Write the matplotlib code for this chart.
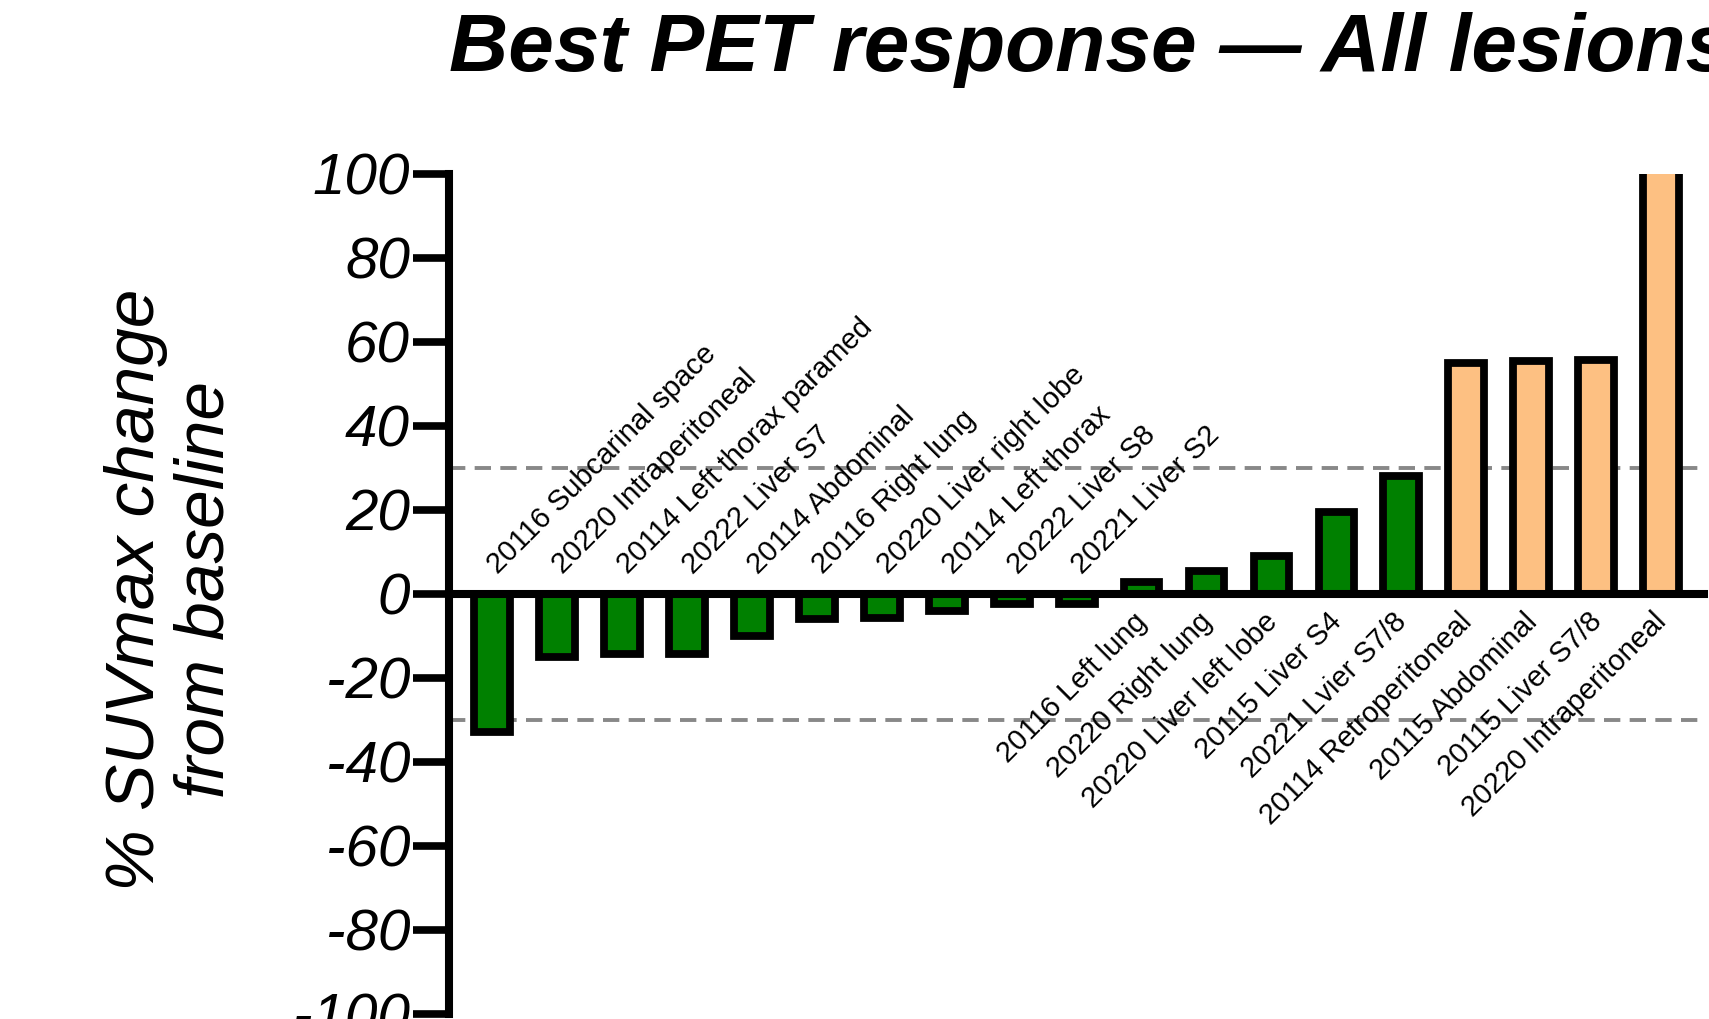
import numpy as np
import matplotlib
matplotlib.use("Agg")
import matplotlib.pyplot as plt

plt.rcParams['font.family'] = ['Liberation Sans', 'DejaVu Sans']
plt.rcParams['axes.unicode_minus'] = False

# lesions, sorted by best PET response
lesions = [
    "20116 Subcarinal space", "20220 Intraperitoneal", "20114 Left thorax paramed",
    "20222 Liver S7", "20114 Abdominal", "20116 Right lung",
    "20220 Liver right lobe", "20114 Left thorax", "20222 Liver S8",
    "20221 Liver S2", "20116 Left lung", "20220 Right lung",
    "20220 Liver left lobe", "20115 Liver S4", "20221 Lvier S7/8",
    "20114 Retroperitoneal", "20115 Abdominal", "20115 Liver S7/8",
    "20220 Intraperitoneal",
]
suv_change = [-33, -15, -14.4, -14.4, -10, -6, -5.8, -4.2, -2.5, -2.5,
              2.7, 5.4, 9, 19.5, 28, 55, 55.4, 55.6, 120]
bar_colors = ["#008000"] * 15 + ["#FDC082"] * 4
thresholds = [30, -30]

fig = plt.figure(figsize=(17.09, 10.19), dpi=100)
ax = fig.add_axes([449 / 1709, 5.5 / 1019, (1704.3 - 449) / 1709, (1013.5 - 173.5) / 1019])

x = np.arange(len(lesions))
ax.bar(x, suv_change, width=0.55, color=bar_colors, edgecolor="black",
       linewidth=5.6, zorder=2)

for t in thresholds:
    ax.axhline(t, color="#888888", lw=2.8, dashes=(4.2, 2.4), zorder=1)

for i, (name, v) in enumerate(zip(lesions, suv_change)):
    if v < 0:
        ax.text(i + 0.09, 4.5, name, rotation=45, rotation_mode="anchor",
                ha="left", va="baseline", fontsize=21)
    else:
        ax.text(i - 0.13, -3.3, name, rotation=45, rotation_mode="anchor",
                ha="right", va="top", fontsize=21)

ax.set_xlim(-0.667, 18.667)
ax.set_ylim(-100, 100)
ax.set_yticks(np.arange(-100, 101, 20))
ax.set_xticks([])
ax.spines["top"].set_visible(False)
ax.spines["right"].set_visible(False)
ax.spines["bottom"].set_position(("data", 0))
ax.spines["left"].set_linewidth(5.8)
ax.spines["bottom"].set_linewidth(5.8)
ax.tick_params(axis="y", length=26, width=5.5, pad=2, labelsize=42)
for lab in ax.get_yticklabels():
    lab.set_fontstyle("italic")

fig.text(171 / 1709, 1 - 590 / 1019, "% SUVmax change\nfrom baseline",
         rotation=90, ha="center", va="center", multialignment="center",
         fontsize=50, fontstyle="italic", linespacing=1.1)

fig.text(449 / 1709, 1 - 71 / 1019, "Best PET response \u2014 All lesions",
         ha="left", va="baseline", fontsize=59, fontweight="bold",
         fontstyle="italic")

fig.savefig("out.png", dpi=100)
